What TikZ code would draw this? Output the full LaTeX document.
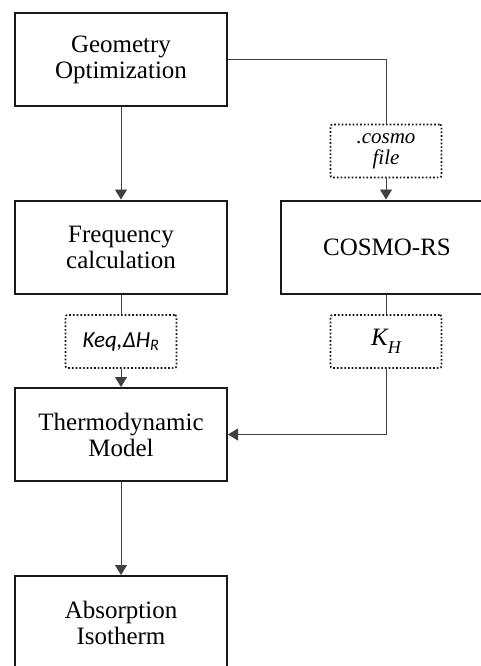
\documentclass[tikz,border=0pt]{standalone}
\usepackage{fontspec}
\setmainfont{Liberation Serif}
\newfontfamily\calib{Carlito}
\usetikzlibrary{arrows.meta}
\tikzset{
  mainbox/.style={draw=black!90, line width=2pt, minimum width=212pt, minimum height=93pt, align=center, inner sep=0pt, font=\fontsize{25}{26}\selectfont},
  databox/.style={draw=black!90, line width=1.7pt, dotted, rounded corners=2pt, minimum width=111pt, minimum height=53pt, align=center, inner sep=0pt},
  conn/.style={draw=black!75, line width=0.9pt},
  arr/.style={conn, -{Triangle[width=12pt,length=10pt]}}
}
\begin{document}
\begin{tikzpicture}[x=1pt,y=-1pt]
\useasboundingbox[fill=white] (0,0) rectangle (481,666);
\clip (0,0) rectangle (481,666);
\node[mainbox] (geo) at (121,59.5) {Geometry\\Optimization};
\node[mainbox] (freq) at (121,247) {Frequency\\calculation};
\node[mainbox] (cosmors) at (387,247) {COSMO-RS};
\node[mainbox] (thermo) at (121,434.5) {Thermodynamic\\Model};
\node[mainbox] (abs) at (121,622.5) {Absorption\\Isotherm};
\node[databox, font=\fontsize{21}{21}\selectfont\itshape] (cfile) at (386,151) {.cosmo\\file};
\node[databox, font=\fontsize{23}{24}\selectfont\calib\itshape] (keq) at (121,341.5) {Keq,ΔH\textsubscript{R}};
\node[databox, font=\fontsize{25}{26}\selectfont\itshape] (kh) at (386,341.5) {K\raisebox{-0.3em}{\fontsize{18}{18}\selectfont H}};
\coordinate (c1) at (386,59.5);
\coordinate (c2) at (386,434.5);
\draw[conn] (geo.east) -- (c1) -- (cfile.north);
\draw[arr] (cfile.south) -- (cosmors.north -| cfile.south);
\draw[arr] (geo.south) -- (freq.north);
\draw[conn] (freq.south) -- (keq.north);
\draw[arr] (keq.south) -- (thermo.north);
\draw[conn] (cosmors.south -| kh.north) -- (kh.north);
\draw[arr] (kh.south) -- (c2) -- (thermo.east);
\draw[arr] (thermo.south) -- (abs.north);
\end{tikzpicture}
\end{document}
